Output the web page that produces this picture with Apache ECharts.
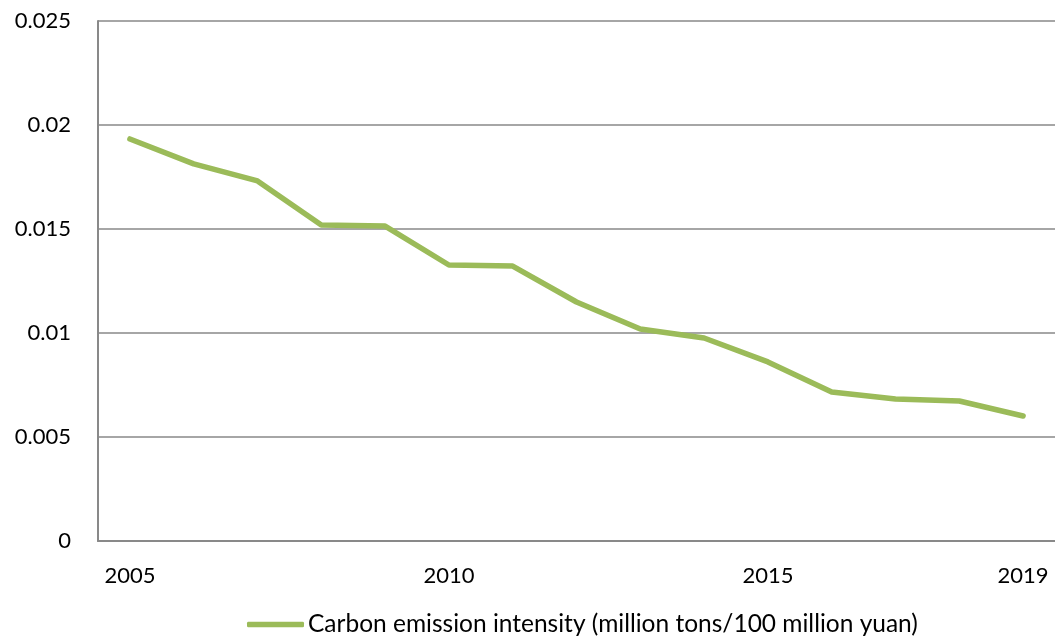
<!DOCTYPE html>
<html><head><meta charset="utf-8">
<script src="https://cdn.jsdelivr.net/npm/echarts@6/dist/echarts.min.js"></script>
<style>html,body{margin:0;padding:0;background:#fff}#c{width:1055px;height:644px}</style>
</head><body><div id="c"></div>
<script>
const years = ['2005','2006','2007','2008','2009','2010','2011','2012','2013','2014','2015','2016','2017','2018','2019'];
const intensity = [0.01933,0.01813,0.01731,0.01519,0.01514,0.01327,0.01322,0.01149,0.01019,0.00976,0.00861,0.00716,0.00683,0.00673,0.00601];
const shownYears = ['2005','2010','2015','2019'];
const seriesName = 'Carbon emission intensity (million tons/100 million yuan)';

const chart = echarts.init(document.getElementById('c'));
chart.setOption({
  animation:false,
  textStyle:{fontFamily:'Lato'},
  grid:{left:98,right:0,top:21,bottom:103},
  legend:{
    data:[{name:seriesName,icon:'roundRect'}],
    left:247, top:612, padding:0, itemWidth:57, itemHeight:5.5, itemGap:4,
    textStyle:{fontFamily:'Lato',fontSize:24.5,color:'#000',padding:[0,0,0,-1]}
  },
  xAxis:{
    type:'category', data:years, boundaryGap:true,
    axisLine:{lineStyle:{color:'#898989',width:2}},
    axisTick:{show:false},
    axisLabel:{
      interval:(i,v)=>shownYears.includes(v),
      color:'#000',fontSize:22,fontFamily:'Lato',margin:24
    }
  },
  yAxis:{
    type:'value', min:0, max:0.025, interval:0.005,
    axisLine:{show:true,lineStyle:{color:'#898989',width:2}},
    axisTick:{show:false},
    splitLine:{lineStyle:{color:'#898989',width:1.5}},
    axisLabel:{color:'#000',fontSize:22,fontFamily:'Lato',margin:27,
      formatter:v=>v===0?'0':String(+v.toFixed(3))}
  },
  series:[{
    name:seriesName,type:'line',data:intensity,
    symbol:'none',
    lineStyle:{color:'#9BBB59',width:5.5,cap:'round',join:'round'},
    itemStyle:{color:'#9BBB59'}
  }]
});
</script></body></html>
